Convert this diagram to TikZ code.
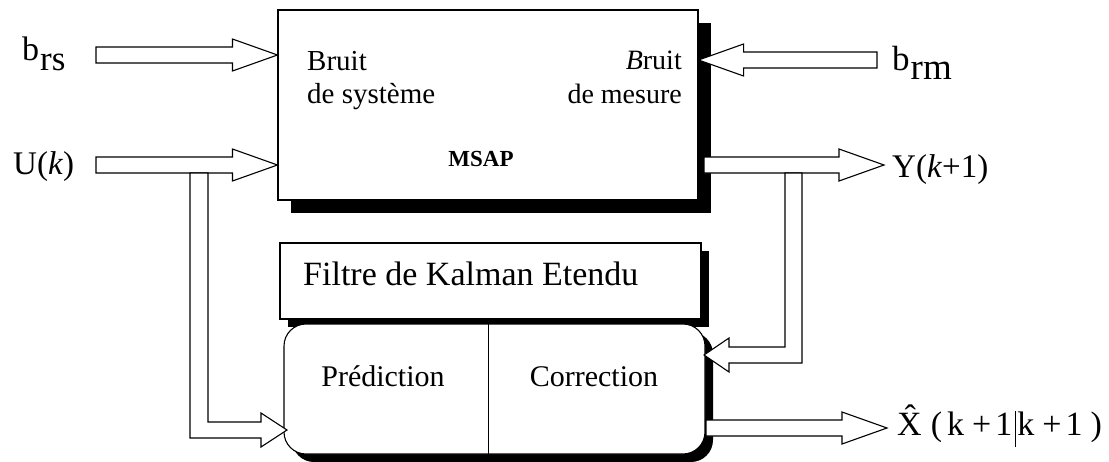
\documentclass[tikz,border=0pt]{standalone}
\usepackage{fontspec}
\setmainfont{Liberation Serif}
\usetikzlibrary{calc,shadows}
\tikzset{
  fatarr/.style={draw=black, fill=white, line width=1.1pt, line join=miter},
  blockbox/.style={draw=black, fill=white, line width=1.1pt, inner sep=0pt},
  bshadow/.style={general shadow={fill=black, shadow xshift=#1, shadow yshift=-#1}},
  lbl/.style={inner sep=0pt, anchor=base west},
  big/.style={font=\fontsize{33}{38}\selectfont},
  mid/.style={font=\fontsize{30}{34}\selectfont},
}
\newcommand{\fatarrow}[2]{%
  \draw[fatarr] let \p1=(#1), \p2=(#2), \p3=($(#2)!45pt!(#1)$) in
    (\x1,\y1+8pt) -- (\x3,\y1+8pt) -- (\x3,\y1+16pt) -- (\x2,\y2)
    -- (\x3,\y1-16pt) -- (\x3,\y1-8pt) -- (\x1,\y1-8pt) -- cycle;}
\begin{document}
\begin{tikzpicture}[x=1pt,y=-1pt]
\useasboundingbox (0,0) rectangle (1109,461);
% boxes
\node[blockbox, bshadow=13pt, minimum width=420pt, minimum height=190pt] (msap) at (488,105) {};
\node[blockbox, bshadow=8pt, minimum width=421pt, minimum height=76pt] (filt) at (490.5,281) {};
\node[blockbox, bshadow=8pt, rounded corners=22pt, minimum width=421pt, minimum height=130pt] (kal) at (494.5,389) {};
\draw[line width=0.9pt] ($(kal.north west)!0.485!(kal.north east)$) -- ($(kal.south west)!0.485!(kal.south east)$);
% texts in boxes
\node[lbl, font=\fontsize{29}{34}\selectfont] (bs1) at (307,70) {Bruit};
\node[lbl, font=\fontsize{29}{34}\selectfont] (bs2) at (307,103) {de système};
\node[inner sep=0pt, anchor=base east, font=\fontsize{28}{34}\selectfont] (bm1) at (682,69) {\textit{B}ruit};
\node[inner sep=0pt, anchor=base east, font=\fontsize{28}{34}\selectfont] (bm2) at (682,103) {de mesure};
\node[inner sep=0pt, anchor=base, font=\fontsize{23}{28}\selectfont\bfseries] (mlabel) at (481,166) {MSAP};
\node[lbl, font=\fontsize{34}{38}\selectfont] (flabel) at (303,285) {Filtre de Kalman Etendu};
\node[inner sep=0pt, anchor=base, mid] (pred) at (383,386) {Prédiction};
\node[inner sep=0pt, anchor=base, mid] (corr) at (594,386) {Correction};
% outer labels
\node[lbl, font=\fontsize{34}{38}\selectfont] (brs) at (22,60) {b\hspace{1pt}\raisebox{-10pt}{\fontsize{35}{38}\selectfont rs}};
\node[lbl, font=\fontsize{35}{38}\selectfont] (brm) at (892,70) {b\hspace{1pt}\raisebox{-9pt}{\fontsize{37}{38}\selectfont rm}};
\node[lbl, big] (ulab) at (13,174) {U(\textit{k})};
\node[lbl, big] (ylab) at (892,177) {Y(\textit{k}+1)};
\node[lbl, font=\fontsize{34}{38}\selectfont] (xlab) at (897,435)
  {\^{X}\hspace{9pt}(\hspace{5pt}k\hspace{8pt}+\hspace{4pt}1\hspace{3pt}\rule[-12pt]{1.2pt}{36pt}\hspace{1pt}k\hspace{8pt}+\hspace{4pt}1\hspace{8pt})};
% arrow anchor coordinates
\coordinate (brsS) at (96,55);
\coordinate (uS) at (96,165);
\coordinate (brmS) at (877,60);
\coordinate (yA) at (704,165);
\coordinate (yT) at (884,165);
\coordinate (xA) at (706,428);
\coordinate (xT) at (887,428);
% block arrows
\fatarrow{brsS}{msap.west |- brsS}
\fatarrow{uS}{msap.west |- uS}
\fatarrow{brmS}{msap.east |- brmS}
\fatarrow{yA}{yT}
\fatarrow{xA}{xT}
% branches
\coordinate (uB) at (199,173);
\coordinate (uT) at (287,430);
\draw[fatarr] let \p1=(uB), \p2=(uT) in
  (\x1-9pt,\y1) -- (\x1-9pt,\y2-8pt) -- (\x2-26pt,\y2-8pt) -- (\x2-26pt,\y2-17pt)
  -- (\x2,\y2) -- (\x2-26pt,\y2+17pt) -- (\x2-26pt,\y2+8pt) -- (\x1+9pt,\y2+8pt)
  -- (\x1+9pt,\y1) -- cycle;
\coordinate (yB) at (793.5,173);
\coordinate (yC) at (704,355);
\draw[fatarr] let \p1=(yB), \p2=(yC) in
  (\x1+8.5pt,\y1) -- (\x1+8.5pt,\y2-8pt) -- (\x2+25pt,\y2-8pt) -- (\x2+25pt,\y2-17pt)
  -- (\x2,\y2) -- (\x2+25pt,\y2+17pt) -- (\x2+25pt,\y2+8pt) -- (\x1-8.5pt,\y2+8pt)
  -- (\x1-8.5pt,\y1) -- cycle;
\end{tikzpicture}
\end{document}
